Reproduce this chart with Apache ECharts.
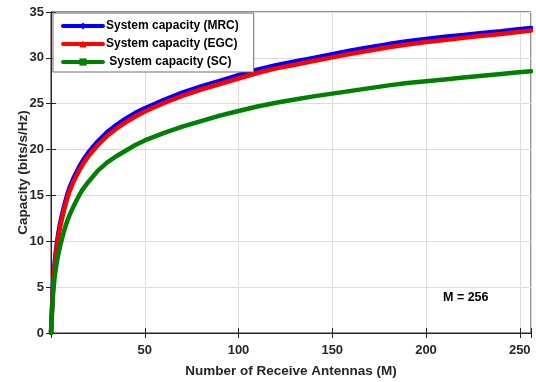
<!DOCTYPE html>
<html>
<head>
<meta charset="utf-8">
<script src="https://cdn.jsdelivr.net/npm/echarts@6/dist/echarts.min.js"></script>
<style>html,body{margin:0;padding:0;background:#fff}#c{width:536px;height:382px}</style>
</head>
<body>
<div id="c"></div>
<script>
var antennas = [0,1,2,3,4,5,6,7,8,9,10,12,14,15,17,20,25,30,35,40,45,50,60,70,80,90,100,110,120,130,140,150,160,170,180,190,200,210,220,230,240,248,256];
var mrc = [0,5.1,7.8,9.6,11.0,12.1,13.0,13.85,14.6,15.3,15.9,16.9,17.7,18.1,18.8,19.7,20.9,21.9,22.7,23.4,24.0,24.5,25.4,26.2,26.9,27.5,28.1,28.7,29.2,29.6,30.0,30.4,30.8,31.15,31.5,31.8,32.05,32.3,32.5,32.7,32.9,33.1,33.25];
var egc = [0,4.7,7.4,9.2,10.6,11.7,12.6,13.45,14.2,14.9,15.5,16.5,17.3,17.7,18.4,19.3,20.5,21.5,22.3,23.0,23.6,24.15,25.05,25.85,26.55,27.15,27.75,28.35,28.85,29.25,29.65,30.05,30.45,30.8,31.15,31.45,31.72,31.95,32.18,32.4,32.6,32.8,32.97];
var sc = [0,4.0,6.2,7.6,8.7,9.6,10.4,11.15,11.8,12.4,12.9,13.8,14.6,15.0,15.7,16.5,17.7,18.6,19.3,19.9,20.5,21.0,21.8,22.5,23.1,23.7,24.2,24.7,25.1,25.45,25.8,26.1,26.4,26.7,27.0,27.25,27.45,27.65,27.85,28.05,28.25,28.4,28.55];
var seriesNames = ['System capacity (MRC)','System capacity (EGC)',' System capacity (SC)'];
var xTicks = [50,100,150,200,250];
var yTicks = [0,5,10,15,20,25,30,35];
var annotation = 'M = 256';

function pairs(xs, ys){ return xs.map(function(x,i){ return [x, ys[i]]; }); }
var font = 'Liberation Sans, Arial, sans-serif';
var dark = '#262626';

var chart = echarts.init(document.getElementById('c'), null, {renderer:'canvas'});
function mk(name, data, color, symbol){
  return {
    name: name, type: 'line', data: data, smooth: false,
    symbol: symbol, symbolSize: 5, showSymbol: false,
    lineStyle: {color: color, width: 4.5, join: 'round', cap: 'round'},
    itemStyle: {color: color, borderWidth: 0},
    emphasis: {disabled: true}, animation: false, clip: true
  };
}
chart.setOption({
  animation: false,
  grid: {left: 51, right: 5, top: 12, bottom: 49, show: true, borderColor: dark, borderWidth: 1,
         backgroundColor: '#fff', containLabel: false, outerBoundsMode: 'none'},
  legend: {
    orient: 'vertical', left: 53, top: 13, itemGap: 6, itemWidth: 40, itemHeight: 9,
    backgroundColor: '#fff', borderColor: '#6f6f6f', borderWidth: 1, padding: [7, 15, 4, 8],
    lineStyle: {width: 4},
    textStyle: {fontFamily: font, fontWeight: 'bold', fontSize: 12, color: '#000', padding: [0,0,0,-2]},
    data: seriesNames
  },
  xAxis: [{
    type: 'value', min: 0, max: 256, interval: 50,
    name: 'Number of Receive Antennas (M)', nameLocation: 'middle', nameGap: 31,
    nameTextStyle: {fontFamily: font, fontWeight: 'bold', fontSize: 13.5, color: dark},
    axisLine: {show: true, lineStyle: {color: dark}},
    axisTick: {show: true, inside: true, length: 5, lineStyle: {color: dark}},
    axisLabel: {fontFamily: font, fontWeight: 'bold', fontSize: 13, color: dark, margin: 11,
      formatter: function(v){ return xTicks.indexOf(v) >= 0 ? String(v) : ''; }},
    splitLine: {show: true, lineStyle: {color: '#dcdcdc', width: 1}}
  },{
    type: 'value', min: 0, max: 256, interval: 50, position: 'top',
    axisLine: {show: true, lineStyle: {color: dark}},
    axisTick: {show: true, inside: true, length: 5, lineStyle: {color: dark}},
    axisLabel: {show: false}, splitLine: {show: false}
  }],
  yAxis: [{
    type: 'value', min: 0, max: 35, interval: 5,
    name: 'Capacity (bits/s/Hz)', nameLocation: 'middle', nameGap: 21, nameMoveOverlap: false,
    nameTextStyle: {fontFamily: font, fontWeight: 'bold', fontSize: 13.5, color: dark},
    axisLine: {show: true, lineStyle: {color: dark}},
    axisTick: {show: true, inside: true, length: 5, lineStyle: {color: dark}},
    axisLabel: {fontFamily: font, fontWeight: 'bold', fontSize: 13, color: dark, margin: 7,
      formatter: function(v){ return yTicks.indexOf(v) >= 0 ? String(v) : ''; }},
    splitLine: {show: true, lineStyle: {color: '#dcdcdc', width: 1}}
  },{
    type: 'value', min: 0, max: 35, interval: 5, position: 'right',
    axisLine: {show: true, lineStyle: {color: dark}},
    axisTick: {show: true, inside: true, length: 5, lineStyle: {color: dark}},
    axisLabel: {show: false}, splitLine: {show: false}
  }],
  graphic: [{
    type: 'text', left: 443, top: 291,
    style: {text: annotation, fontFamily: font, fontWeight: 'bold', fontSize: 12.5, fill: '#000'}
  }],
  series: [
    mk(seriesNames[0], pairs(antennas, mrc), '#0000FF', 'diamond'),
    mk(seriesNames[1], pairs(antennas, egc), '#FF0000', 'triangle'),
    mk(seriesNames[2], pairs(antennas, sc), '#008000', 'rect')
  ]
});
</script>
</body>
</html>
